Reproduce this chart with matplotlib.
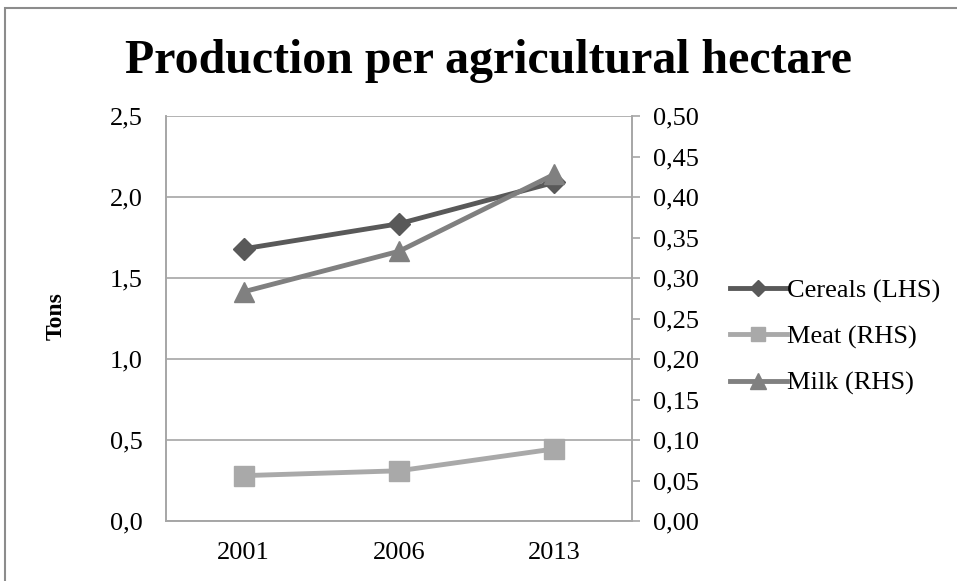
import matplotlib.pyplot as plt
from matplotlib.patches import Rectangle
from matplotlib.ticker import MultipleLocator, FuncFormatter

# data
years = ["2001", "2006", "2013"]
cereals = [1.68, 1.835, 2.09]      # LHS, tons
meat = [0.056, 0.062, 0.089]       # RHS
milk = [0.283, 0.333, 0.428]       # RHS

plt.rcParams['font.family'] = ['Liberation Serif', 'DejaVu Serif']

W, H = 957, 581
fig = plt.figure(figsize=(W/100, H/100), dpi=100)
# gray border of the chart area (cut at right/bottom)
fig.patches.append(Rectangle((5/W, -0.1), 1.2, 1 - 8/H + 0.1, transform=fig.transFigure,
                             fill=False, edgecolor='#8c8c8c', linewidth=1.5))

ax = fig.add_axes([166/W, 1 - 521/H, (632-166)/W, (521-116)/H])
ax2 = ax.twinx()

x = list(range(len(years)))
grid_c = '#a6a6a6'

l1, = ax.plot(x, cereals, color='#595959', lw=3.5, marker='D', ms=11, label='Cereals (LHS)')
l2, = ax2.plot(x, meat, color='#a9a9a9', lw=3.5, marker='s', ms=14, label='Meat (RHS)')
l3, = ax2.plot(x, milk, color='#808080', lw=3.5, marker='^', ms=15, label='Milk (RHS)')

ax.set_xlim(-0.5, 2.5)
ax.set_ylim(0, 2.5)
ax2.set_ylim(0, 0.5)
ax.set_xticks(x)
ax.set_xticklabels(years)
ax.yaxis.set_major_locator(MultipleLocator(0.5))
ax2.yaxis.set_major_locator(MultipleLocator(0.05))
ax.yaxis.set_major_formatter(FuncFormatter(lambda v, p: f"{v:.1f}".replace('.', ',')))
ax2.yaxis.set_major_formatter(FuncFormatter(lambda v, p: f"{v:.2f}".replace('.', ',')))

ax.grid(axis='y', color=grid_c, lw=1.2)
ax.set_axisbelow(True)
for a in (ax, ax2):
    a.spines['top'].set_visible(False)
    for s in ('left', 'right', 'bottom'):
        a.spines[s].set_color(grid_c)
        a.spines[s].set_linewidth(1.2)
ax.tick_params(axis='y', length=0, pad=17, labelsize=19)
ax.tick_params(axis='x', length=0, pad=15, labelsize=19)
ax2.tick_params(axis='y', length=6, width=1.2, color=grid_c, pad=9, labelsize=19)

fig.text(56/W, 1 - 316/H, 'Tons', rotation=90, ha='center', va='center',
         fontsize=17, fontweight='bold')
fig.text(488/W, 1 - 73/H, 'Production per agricultural hectare', ha='center', va='baseline',
         fontsize=34.5, fontweight='bold')

fig.legend(handles=[l1, l2, l3], loc='center left', bbox_to_anchor=(730/W, 1 - 337/H),
           frameon=False, fontsize=19, handlelength=2.15, handletextpad=0.0,
           labelspacing=0.85, borderaxespad=0, borderpad=0, markerscale=0.75)

fig.savefig('out.png', dpi=100)
